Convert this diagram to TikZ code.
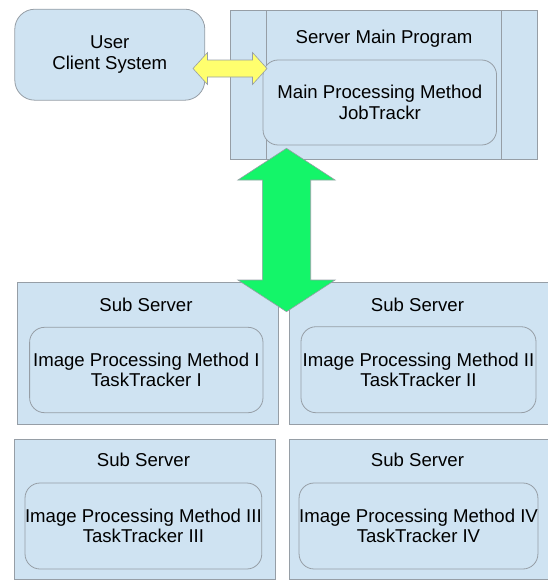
\documentclass[tikz,border=0pt]{standalone}
\usepackage{fontspec}
\setmainfont{Liberation Sans}
\usepackage{tikz}
\usepackage{xcolor}
\usetikzlibrary{calc}
\definecolor{boxblue}{RGB}{207,227,242}
\definecolor{boxgray}{RGB}{150,158,166}
\definecolor{jobgreen}{RGB}{20,245,105}
\definecolor{linkyellow}{RGB}{255,255,110}

\begin{document}
\begin{tikzpicture}[x=1pt, y=-1pt]
	\tikzstyle{box} = [rectangle, draw = boxgray, fill = boxblue, line width=0.8pt, inner sep=0pt, outer sep=0pt]
\tikzstyle{method} = [box, rounded corners=15pt, align=center, font=\fontsize{18.6}{20.6}\selectfont]
\tikzstyle{title} = [anchor=base, inner sep=0pt, font=\fontsize{18.6}{20.6}\selectfont]
\tikzstyle{line} = [draw = boxgray, line width=0.8pt]
\tikzstyle{fat} = [draw = boxgray, line width=0.6pt, line join=miter]
\useasboundingbox (0,0) rectangle (548,581);
% client and main server
\node(user)[method, rounded corners=20pt, minimum width=190pt, minimum height=91pt] at (109.8,54.7) {User\\Client System};
\node(srv)[box, minimum width=307.6pt, minimum height=149.3pt] at (383.8,84.7) {};
\draw[line] ([xshift=36.5pt]srv.north west) -- ([xshift=36.5pt]srv.south west);
\draw[line] ([xshift=-36pt]srv.north east) -- ([xshift=-36pt]srv.south east);
\node(srvtitle)[title] at (384,43.4) {Server Main Program};
\node(job)[method, minimum width=233.5pt, minimum height=85pt] at (379.8,102.5) {Main Processing Method\\JobTrackr};
% sub servers
\node(sub1)[box, minimum width=260.6pt, minimum height=141.3pt] at (147.7,353.3) {};
\node(sub2)[box, minimum width=262pt, minimum height=141.3pt] at (420.2,353.3) {};
\node(sub3)[box, minimum width=261.4pt, minimum height=140.3pt] at (144.6,509.2) {};
\node(sub4)[box, minimum width=262pt, minimum height=140.3pt] at (420.2,509.2) {};
\node(sub1title)[title] at (146,311.7) {Sub Server};
\node(sub2title)[title] at (417.5,311.7) {Sub Server};
\node(sub3title)[title] at (143.5,466.7) {Sub Server};
\node(sub4title)[title] at (417.5,466.7) {Sub Server};
\node(task1)[method, minimum width=233.4pt, minimum height=85.4pt] at (146.3,370) {Image Processing Method I\\TaskTracker I};
\node(task2)[method, minimum width=235pt, minimum height=86pt] at (418.5,369.7) {Image Processing Method II\\TaskTracker II};
\node(task3)[method, minimum width=234.5pt, minimum height=86pt] at (143.4,526) {Image Processing Method III\\TaskTracker III};
\node(task4)[method, minimum width=235pt, minimum height=86pt] at (418.5,526) {Image Processing Method IV\\TaskTracker IV};
% fat arrows
\coordinate(ya-left) at (193,68.5);
\coordinate(ya-right) at (267,68.5);
\coordinate(ga-top) at (286.5,148.3);
\coordinate(ga-bot) at (286.5,311.7);
\draw[fat, fill = linkyellow] (ya-left) -- ++(14.5,-16) -- ++(0,7.5) -- ($(ya-right)+(-14.5,-8.5)$) -- ++(0,-7.5) -- (ya-right)
	-- ++(-14.5,16) -- ++(0,-7.5) -- ($(ya-left)+(14.5,8.5)$) -- ++(0,7.5) -- cycle;
\draw[fat, fill = jobgreen] (ga-top) -- ++(48.6,31.7) -- ++(-24.4,0) -- ($(ga-bot)+(24.2,-31.7)$) -- ++(24.4,0) -- (ga-bot)
	-- ++(-48.6,-31.7) -- ++(24.4,0) -- ($(ga-top)+(-24.2,31.7)$) -- ++(-24.4,0) -- cycle;
  \end{tikzpicture}
\end{document}
